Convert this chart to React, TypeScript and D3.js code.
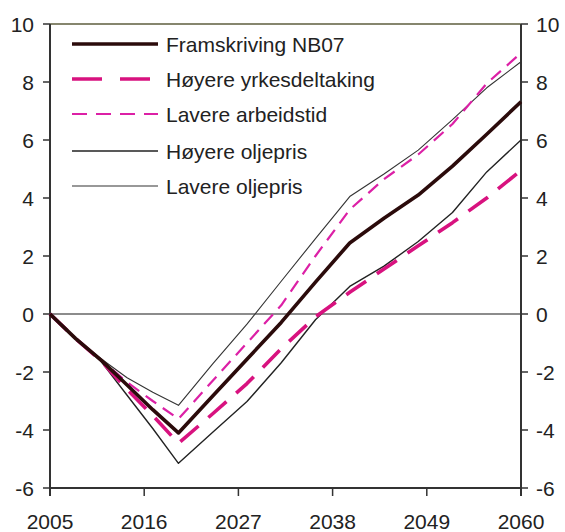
import React from "react";
import * as d3 from "d3";

const years = [2005, 2008, 2011, 2014, 2017, 2020, 2024, 2028, 2032, 2036, 2040, 2044, 2048, 2052, 2056, 2060];
const framskriving = [0, -0.85, -1.6, -2.45, -3.3, -4.1, -2.83, -1.56, -0.29, 1.1, 2.45, 3.3, 4.1, 5.1, 6.2, 7.32];
const hoyereYrkes = [0, -0.85, -1.62, -2.6, -3.5, -4.46, -3.44, -2.4, -1.2, -0.1, 0.75, 1.55, 2.35, 3.15, 4.0, 4.95];
const lavereArbeidstid = [0, -0.85, -1.6, -2.35, -3.0, -3.62, -2.3, -1.0, 0.3, 2.0, 3.6, 4.65, 5.5, 6.55, 7.95, 9.0];
const hoyereOljepris = [0, -0.85, -1.65, -2.8, -3.95, -5.15, -4.08, -3.02, -1.68, -0.2, 0.95, 1.65, 2.5, 3.5, 4.9, 6.0];
const lavereOljepris = [0, -0.85, -1.55, -2.2, -2.7, -3.15, -1.72, -0.35, 1.13, 2.6, 4.05, 4.83, 5.65, 6.7, 7.8, 8.7];

const seriesNames = ["Framskriving NB07", "Høyere yrkesdeltaking", "Lavere arbeidstid", "Høyere oljepris", "Lavere oljepris"];
const yTicks = [-6, -4, -2, 0, 2, 4, 6, 8, 10];
const xTicks = [2005, 2016, 2027, 2038, 2049, 2060];

const styles = [
  { color: "#2b0b0b", width: 3.6, dash: "" },
  { color: "#d8127f", width: 3.6, dash: "24,13" },
  { color: "#dc20a6", width: 2.2, dash: "13,8" },
  { color: "#222222", width: 1.4, dash: "" },
  { color: "#333333", width: 1.1, dash: "" },
];

export default function App() {
  const W = 565, H = 532;
  const x = d3.scaleLinear().domain([2005, 2060]).range([50, 521]);
  const y = d3.scaleLinear().domain([-6, 10]).range([488, 24]);
  const allSeries = [framskriving, hoyereYrkes, lavereArbeidstid, hoyereOljepris, lavereOljepris];
  const line = d3.line<number>().x((_, i) => x(years[i])).y((d) => y(d));
  const font = "'Liberation Sans', Arial, sans-serif";
  const drawOrder = [4, 3, 2, 1, 0];
  const legendY = [44, 79, 114, 151, 186];

  return (
    <svg width={W} height={H} style={{ position: "absolute", left: 0, top: 0, background: "#fff" }}
      fontFamily={font}>
      <rect x={0} y={0} width={W} height={H} fill="#ffffff" />
      {/* zero line */}
      <line x1={x(2005)} x2={x(2060)} y1={y(0)} y2={y(0)} stroke="#8c8c8c" strokeWidth={2} />
      {/* top frame */}
      <line x1={x(2005)} x2={x(2060)} y1={y(10)} y2={y(10)} stroke="#5e5e3e" strokeWidth={1.6} />
      {/* axes */}
      <line x1={x(2005)} x2={x(2005)} y1={y(10)} y2={y(-6) + 8} stroke="#333" strokeWidth={2} />
      <line x1={x(2060)} x2={x(2060)} y1={y(10)} y2={y(-6) + 8} stroke="#333" strokeWidth={2} />
      <line x1={x(2005)} x2={x(2060)} y1={y(-6)} y2={y(-6)} stroke="#333" strokeWidth={2} />
      {yTicks.map((t) => (
        <g key={"yt" + t}>
          <line x1={x(2005) - 7} x2={x(2005)} y1={y(t)} y2={y(t)} stroke="#333" strokeWidth={1.5} />
          <line x1={x(2060)} x2={x(2060) + 7} y1={y(t)} y2={y(t)} stroke="#333" strokeWidth={1.5} />
          <text x={34} y={y(t)} dy="0.36em" textAnchor="end" fontSize={21} fill="#222">{t}</text>
          <text x={536} y={y(t)} dy="0.36em" textAnchor="start" fontSize={21} fill="#222">{t}</text>
        </g>
      ))}
      {xTicks.map((t) => (
        <g key={"xt" + t}>
          <line x1={x(t)} x2={x(t)} y1={y(-6)} y2={y(-6) + 8} stroke="#333" strokeWidth={1.5} />
          <text x={x(t)} y={529} textAnchor="middle" fontSize={21} fill="#222">{t}</text>
        </g>
      ))}
      {drawOrder.map((i) => (
        <path key={"s" + i} d={line(allSeries[i]) || ""} fill="none" stroke={styles[i].color}
          strokeWidth={styles[i].width} strokeDasharray={styles[i].dash || undefined}
          strokeLinejoin="round" />
      ))}
      {seriesNames.map((name, i) => (
        <g key={"lg" + i}>
          <line x1={72} x2={158} y1={legendY[i]} y2={legendY[i]} stroke={styles[i].color}
            strokeWidth={styles[i].width} strokeDasharray={i === 1 ? "30,18" : i === 2 ? "15,9" : undefined} />
          <text x={166} y={legendY[i]} dy="0.36em" fontSize={21} fill="#222">{name}</text>
        </g>
      ))}
    </svg>
  );
}
